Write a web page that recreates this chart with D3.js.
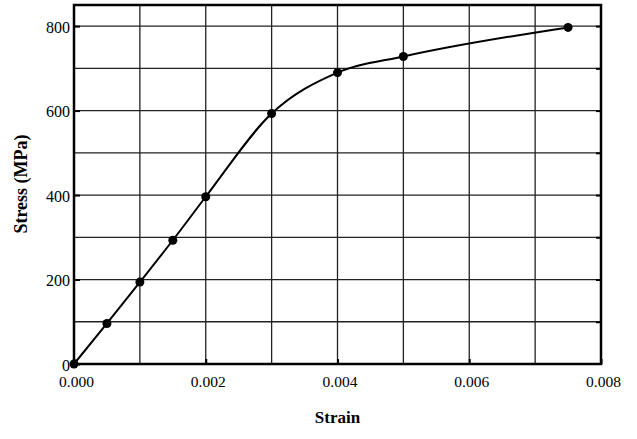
<!DOCTYPE html>
<html>
<head>
<meta charset="utf-8">
<script src="https://cdn.jsdelivr.net/npm/d3@7"></script>
<style>
  body { margin: 0; background: #fff; }
  svg { display: block; }
  svg text { font-family: "Liberation Serif", "Times New Roman", Times, "DejaVu Serif", serif !important; fill: #000; }
</style>
</head>
<body>
<div id="chart"></div>
<script>
/************ stress-strain curve *****************/

const strain = [0, 0.0005, 0.001, 0.0015, 0.002, 0.003, 0.004, 0.005, 0.0075];
const stress = [0, 96, 194, 293, 396, 593, 690, 728, 797];
const xTicks = [0, 0.002, 0.004, 0.006, 0.008];
const yTicks = [0, 200, 400, 600, 800];

const W = 637, H = 439;
const margin = {top: 5, right: 36, bottom: 75, left: 74};
const iw = W - margin.left - margin.right;
const ih = H - margin.top - margin.bottom;

const x = d3.scaleLinear().domain([0, 0.008]).range([margin.left, margin.left + iw]);
const y = d3.scaleLinear().domain([0, 850]).range([margin.top + ih, margin.top]);

const svg = d3.select("#chart").append("svg")
  .attr("width", W).attr("height", H);

// grid
svg.append("g").selectAll("line")
  .data(d3.range(0.001, 0.008, 0.001))
  .enter().append("line")
  .attr("x1", d => x(d)).attr("x2", d => x(d))
  .attr("y1", y(0)).attr("y2", y(850))
  .attr("stroke", "#222").attr("stroke-width", 1.3);

svg.append("g").selectAll("line")
  .data(d3.range(100, 801, 100))
  .enter().append("line")
  .attr("x1", x(0)).attr("x2", x(0.008))
  .attr("y1", d => y(d)).attr("y2", d => y(d))
  .attr("stroke", "#222").attr("stroke-width", 1.3);

// axes (ticks inward)
const fmtX = d3.format(".3f");
svg.append("g")
  .attr("transform", `translate(0,${y(0)})`)
  .call(d3.axisBottom(x).tickValues(xTicks).tickFormat(fmtX).tickSizeInner(-5).tickSizeOuter(0).tickPadding(12))
  .call(g => g.select(".domain").remove())
  .call(g => g.attr("font-family", null).selectAll("text").attr("font-size", 15.5).attr("dx", 2));

svg.append("g")
  .attr("transform", `translate(${x(0)},0)`)
  .call(d3.axisLeft(y).tickValues(yTicks).tickSizeInner(-6).tickSizeOuter(0).tickPadding(4))
  .call(g => g.select(".domain").remove())
  .call(g => g.attr("font-family", null).selectAll("text").attr("font-size", 16).attr("dy", "0.4em"));

svg.append("g")
  .attr("transform", `translate(${x(0.008)},0)`)
  .call(d3.axisRight(y).tickValues(d3.range(100, 801, 100)).tickSizeInner(-5).tickSizeOuter(0).tickFormat(""))
  .call(g => g.select(".domain").remove());

svg.selectAll(".tick line").attr("stroke-width", 2);

// frame
svg.append("rect")
  .attr("x", x(0)).attr("y", y(850))
  .attr("width", x(0.008) - x(0)).attr("height", y(0) - y(850))
  .attr("fill", "none").attr("stroke", "#000").attr("stroke-width", 2.5);

// curve
const pts = strain.map((s, i) => [s, stress[i]]);
svg.append("path")
  .datum(pts)
  .attr("fill", "none")
  .attr("stroke", "#000")
  .attr("stroke-width", 2)
  .attr("d", d3.line().x(d => x(d[0])).y(d => y(d[1])).curve(d3.curveMonotoneX));

svg.selectAll("circle.pt")
  .data(pts)
  .enter().append("circle")
  .attr("class", "pt")
  .attr("cx", d => x(d[0])).attr("cy", d => y(d[1]))
  .attr("r", 4.5).attr("fill", "#000");

// axis titles
svg.append("text")
  .attr("x", x(0.004)).attr("y", 423)
  .attr("text-anchor", "middle")
  .attr("font-size", 17).attr("font-weight", "bold")
  .text("Strain");

svg.append("text")
  .attr("transform", "translate(27,184) rotate(-90)")
  .attr("text-anchor", "middle")
  .attr("font-size", 18).attr("font-weight", "bold")
  .text("Stress (MPa)");
</script>
</body>
</html>
